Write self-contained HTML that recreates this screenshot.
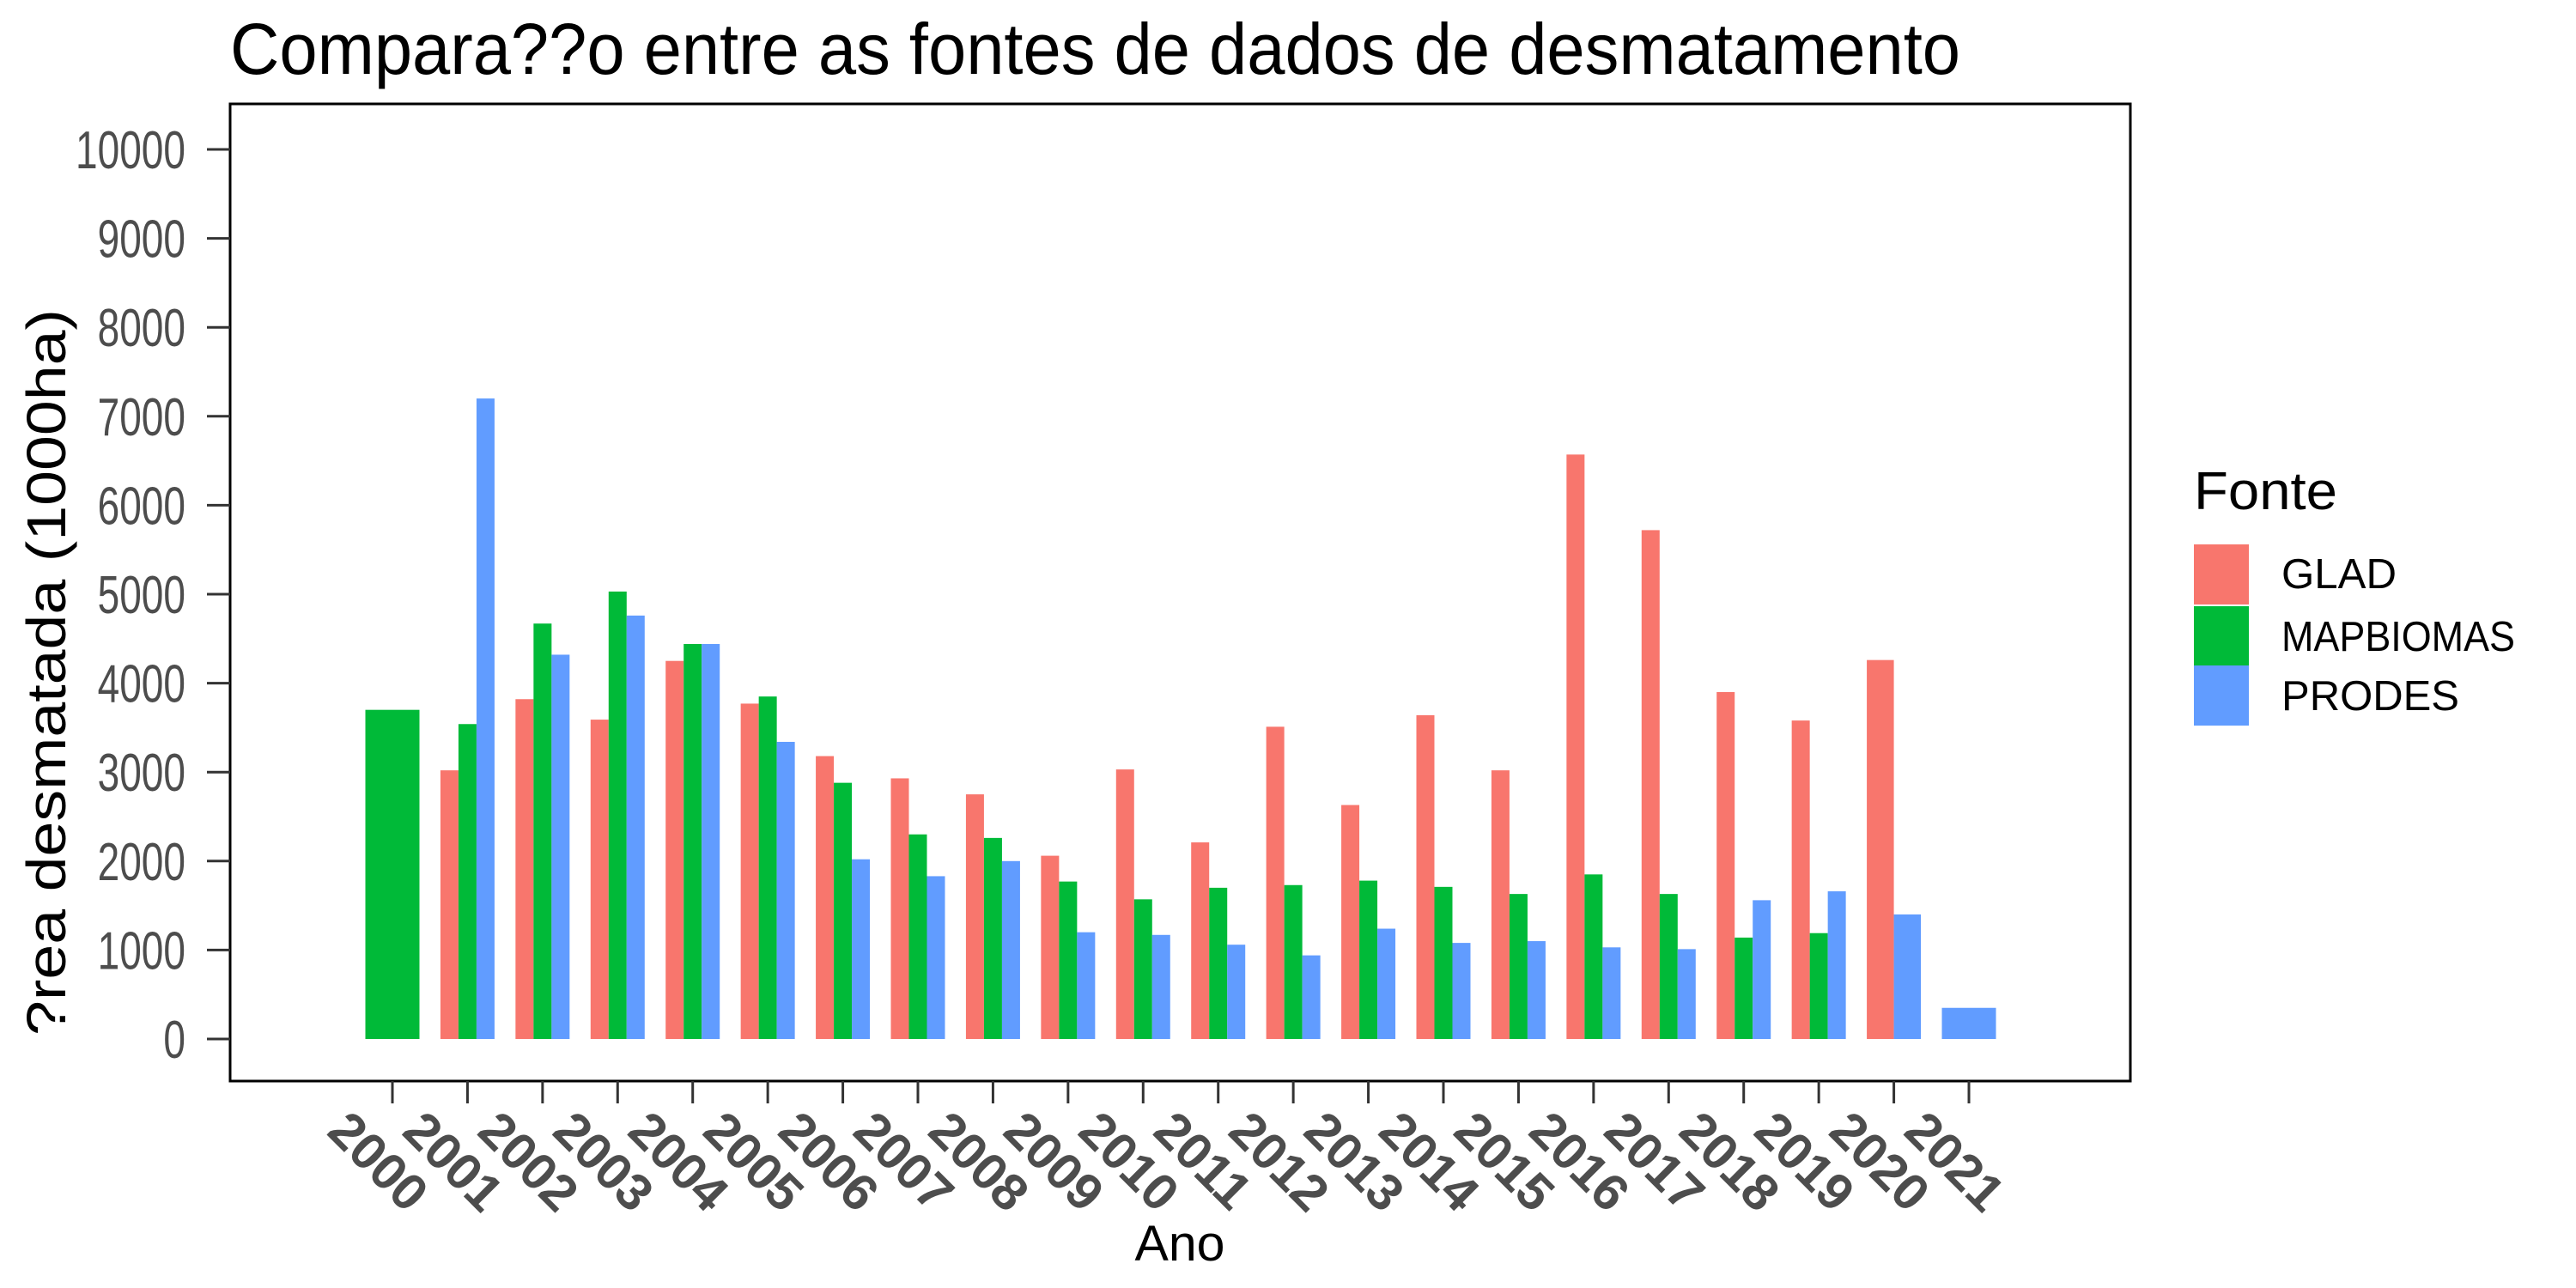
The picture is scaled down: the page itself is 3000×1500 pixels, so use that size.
<!DOCTYPE html>
<html><head><meta charset="utf-8"><style>
html,body{margin:0;padding:0;background:#fff;}
svg{display:block;font-family:"Liberation Sans",Arial,sans-serif;}
</style></head><body>
<svg id="chart" width="3000" height="1500" viewBox="0 0 3000 1500">
<text x="268" y="86" font-size="84" textLength="2015" lengthAdjust="spacingAndGlyphs" fill="#000">Compara??o entre as fontes de dados de desmatamento</text>
<rect x="268" y="121" width="2213" height="1138" fill="#fff" stroke="#000" stroke-width="3"/>
<g id="bars"></g><g id="yaxis"></g><g id="xaxis"></g>
<text transform="translate(76,783) rotate(-90)" text-anchor="middle" font-size="64" textLength="846" lengthAdjust="spacingAndGlyphs" fill="#000">?rea desmatada (1000ha)</text>
<text x="1374" y="1468" text-anchor="middle" font-size="58" textLength="105" lengthAdjust="spacingAndGlyphs" fill="#000">Ano</text>
<g>
<text x="2555" y="593" font-size="62" textLength="167" lengthAdjust="spacingAndGlyphs" fill="#000">Fonte</text>
<rect x="2555" y="634" width="64" height="70" fill="#F8766D"/>
<rect x="2555" y="706" width="64" height="70" fill="#00BA38"/>
<rect x="2555" y="775" width="64" height="70" fill="#619CFF"/>
<text x="2657" y="685" font-size="49" textLength="134" lengthAdjust="spacingAndGlyphs" fill="#000">GLAD</text>
<text x="2657" y="758" font-size="49" textLength="272" lengthAdjust="spacingAndGlyphs" fill="#000">MAPBIOMAS</text>
<text x="2657" y="827" font-size="49" textLength="207" lengthAdjust="spacingAndGlyphs" fill="#000">PRODES</text>
</g>
</svg>
<script>
const years=[2000,2001,2002,2003,2004,2005,2006,2007,2008,2009,2010,2011,2012,2013,2014,2015,2016,2017,2018,2019,2020,2021];
const glad=[null,3020,3820,3590,4250,3770,3180,2930,2750,2060,3030,2210,3510,2630,3640,3020,6570,5720,3900,3580,4260,null];
const mapbiomas=[3700,3540,4670,5030,4440,3850,2880,2300,2260,1770,1570,1700,1730,1780,1710,1630,1850,1630,1140,1190,null,null];
const prodes=[null,7200,4320,4760,4440,3340,2020,1830,2000,1200,1170,1060,940,1240,1080,1100,1030,1010,1560,1660,1400,350];
const yTicks=[0,1000,2000,3000,4000,5000,6000,7000,8000,9000,10000];
const NS="http://www.w3.org/2000/svg";
const xs=i=>457+i*(2293-457)/21;
const ys=v=>1210-v*(1210-174)/10000;
const groupW=63;
const bars=document.getElementById('bars');
const series=[['glad',glad,'#F8766D'],['mapbiomas',mapbiomas,'#00BA38'],['prodes',prodes,'#619CFF']];
years.forEach((yr,i)=>{
  const present=series.filter(s=>s[1][i]!=null);
  const w=groupW/present.length;
  present.forEach((s,k)=>{
    const v=s[1][i];
    const r=document.createElementNS(NS,'rect');
    r.setAttribute('x',xs(i)-groupW/2+k*w);
    r.setAttribute('y',ys(v));
    r.setAttribute('width',w);
    r.setAttribute('height',ys(0)-ys(v));
    r.setAttribute('fill',s[2]);
    
    
    bars.appendChild(r);
  });
});
const ya=document.getElementById('yaxis');
yTicks.forEach(t=>{
  const y=ys(t);
  const l=document.createElementNS(NS,'line');
  l.setAttribute('x1',241);l.setAttribute('x2',268);l.setAttribute('y1',y);l.setAttribute('y2',y);
  l.setAttribute('stroke','#333');l.setAttribute('stroke-width',3);
  
  
  ya.appendChild(l);
  const tx=document.createElementNS(NS,'text');
  const s=String(t);
  tx.setAttribute('x',216);tx.setAttribute('y',y+22);tx.setAttribute('text-anchor','end');
  tx.setAttribute('font-size',62);tx.setAttribute('fill','#4d4d4d');
  tx.setAttribute('textLength',25.6*s.length);tx.setAttribute('lengthAdjust','spacingAndGlyphs');
  tx.textContent=s;
  
  
  ya.appendChild(tx);
});
const xa=document.getElementById('xaxis');
years.forEach((yr,i)=>{
  const x=xs(i);
  const l=document.createElementNS(NS,'line');
  l.setAttribute('x1',x);l.setAttribute('x2',x);l.setAttribute('y1',1259);l.setAttribute('y2',1285);
  l.setAttribute('stroke','#333');l.setAttribute('stroke-width',3);
  
  
  xa.appendChild(l);
  const tx=document.createElementNS(NS,'text');
  tx.setAttribute('transform','translate('+(x-78)+',1320) rotate(45)');
  tx.setAttribute('font-size',60);tx.setAttribute('font-weight','bold');tx.setAttribute('fill','#4d4d4d');
  tx.textContent=yr;
  
  
  xa.appendChild(tx);
});
</script>
</body></html>
